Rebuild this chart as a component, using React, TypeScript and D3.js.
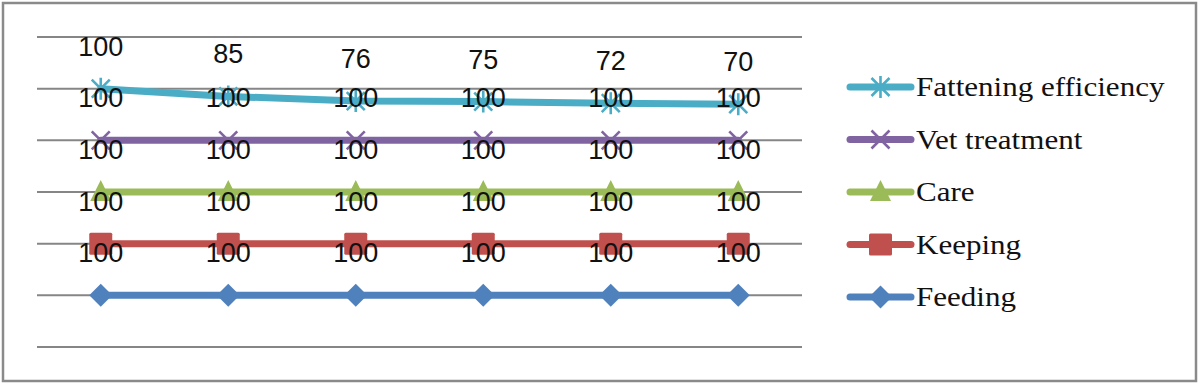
import React, { useEffect, useRef } from 'react';
import * as d3 from 'd3';

// six observation points (no axis labels shown in the chart)
const periods = ['P1', 'P2', 'P3', 'P4', 'P5', 'P6'];

const feeding = [100, 100, 100, 100, 100, 100];
const keeping = [100, 100, 100, 100, 100, 100];
const care = [100, 100, 100, 100, 100, 100];
const vetTreatment = [100, 100, 100, 100, 100, 100];
const fattening = [100, 85, 76, 75, 72, 70];

const seriesNames = ['Feeding', 'Keeping', 'Care', 'Vet treatment', 'Fattening efficiency'];
const seriesValues = [feeding, keeping, care, vetTreatment, fattening];
const seriesColors = ['#4F81BD', '#C0504D', '#9BBB59', '#8064A2', '#4BACC6'];
const seriesMarkers = ['diamond', 'square', 'triangle', 'x', 'star'];

const yTicks = [0, 100, 200, 300, 400, 500, 600];

const W = 1200;
const H = 385;

const drawMarker = (g: any, type: string, color: string) => {
  if (type === 'diamond') {
    g.append('path').attr('d', 'M0,-11.5 L11.5,0 L0,11.5 L-11.5,0 Z').attr('fill', color);
  } else if (type === 'square') {
    g.append('rect').attr('x', -11.5).attr('y', -11).attr('width', 23).attr('height', 22)
      .attr('fill', color).attr('rx', 1.5);
  } else if (type === 'triangle') {
    g.append('path').attr('d', 'M0,-12 L10.5,9 L-10.5,9 Z').attr('fill', color);
  } else if (type === 'x') {
    g.append('path').attr('d', 'M-9,-9 L9,9 M-9,9 L9,-9')
      .attr('stroke', color).attr('stroke-width', 2.6).attr('fill', 'none');
  } else {
    g.append('path').attr('d', 'M-9,-9 L9,9 M-9,9 L9,-9 M0,-11 L0,11')
      .attr('stroke', color).attr('stroke-width', 2.6).attr('fill', 'none');
  }
};

const App = () => {
  const ref = useRef<SVGSVGElement>(null);

  useEffect(() => {
    const svg = d3.select(ref.current);
    svg.selectAll('*').remove();

    const x = d3.scalePoint<string>().domain(periods).range([37, 802]).padding(0.5);
    const y = d3.scaleLinear().domain([0, 600]).range([347, 37]);

    // outer frame
    svg.append('rect')
      .attr('x', 3).attr('y', 3).attr('width', W - 7).attr('height', H - 7)
      .attr('fill', '#fff').attr('stroke', '#8a8a8a').attr('stroke-width', 2.5);

    // gridlines
    svg.append('g')
      .selectAll('line')
      .data(yTicks)
      .join('line')
      .attr('x1', 37).attr('x2', 802)
      .attr('y1', d => y(d)).attr('y2', d => y(d))
      .attr('stroke', '#868686').attr('stroke-width', 2);

    // stacked values
    const rows = periods.map((p, i) => {
      const r: any = { period: p };
      seriesNames.forEach((n, k) => { r[n] = seriesValues[k][i]; });
      return r;
    });
    const stacked = d3.stack().keys(seriesNames)(rows);

    const line = d3.line<any>()
      .x(d => x(d.data.period) as number)
      .y(d => y(d[1]));

    stacked.forEach((s, k) => {
      const color = seriesColors[k];
      svg.append('path')
        .datum(s)
        .attr('d', line)
        .attr('fill', 'none')
        .attr('stroke', color)
        .attr('stroke-width', 7)
        .attr('stroke-linecap', 'round')
        .attr('stroke-linejoin', 'round');
      s.forEach(d => {
        const g = svg.append('g')
          .attr('transform', `translate(${x(d.data.period)},${y(d[1])})`);
        drawMarker(g, seriesMarkers[k], color);
      });
    });

    // data labels
    stacked.forEach((s, k) => {
      svg.append('g')
        .selectAll('text')
        .data(s)
        .join('text')
        .attr('x', d => x(d.data.period) as number)
        .attr('y', d => y(d[1]) - 33)
        .attr('text-anchor', 'middle')
        .attr('font-family', "'Liberation Sans', Arial, sans-serif")
        .attr('font-size', 27)
        .attr('fill', '#111')
        .text((d, i) => seriesValues[k][i]);
    });

    // legend (reverse order)
    const legendNames = seriesNames.slice().reverse();
    const legend = svg.append('g');
    legendNames.forEach((n, i) => {
      const k = seriesNames.indexOf(n);
      const ly = 87 + i * 52.5;
      const g = legend.append('g').attr('transform', `translate(0,${ly})`);
      g.append('line')
        .attr('x1', 850).attr('x2', 911)
        .attr('stroke', seriesColors[k]).attr('stroke-width', 7)
        .attr('stroke-linecap', 'round');
      const mg = g.append('g').attr('transform', 'translate(880.5,0)');
      drawMarker(mg, seriesMarkers[k], seriesColors[k]);
      g.append('text')
        .attr('transform', 'translate(916,9) scale(1.15,1)')
        .attr('font-family', "'Liberation Serif', 'Times New Roman', serif")
        .attr('font-size', 27)
        .attr('fill', '#111')
        .text(n);
    });
  }, []);

  return (
    <svg ref={ref} width={W} height={H} style={{ position: 'absolute', left: 0, top: 0 }} />
  );
};

export default App;
